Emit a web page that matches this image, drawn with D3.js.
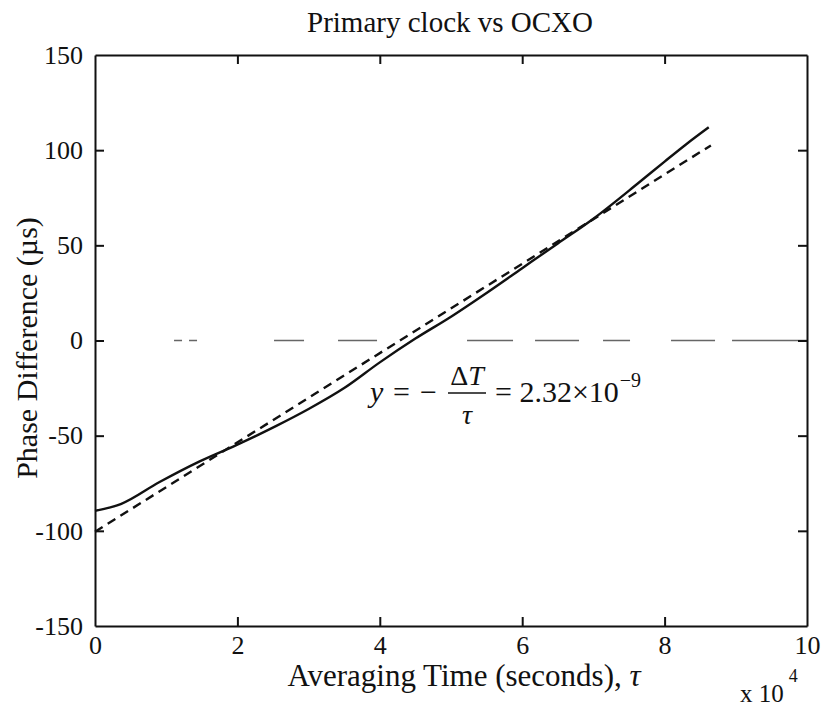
<!DOCTYPE html>
<html>
<head>
<meta charset="utf-8">
<script src="https://cdn.jsdelivr.net/npm/d3@7"></script>
<style>
  html, body { margin: 0; padding: 0; background: #fff; }
  svg { display: block; }
  text { font-family: "Liberation Serif", "Times New Roman", serif; fill: #111; }
</style>
</head>
<body>
<svg id="chart" width="823" height="711"></svg>
<script>
// ---- data (x in units of 10^4 s, y in microseconds) ----
const measuredX = [0, 0.37, 0.9, 1.47, 2.0, 2.54, 3.0, 3.5, 4.0, 4.5, 5.0, 5.5, 6.0, 6.5, 7.0, 7.64, 8.0, 8.3, 8.62];
const measuredY = [-89.5, -85.8, -74.5, -63.5, -54.7, -45, -36, -25, -11.5, 1, 12.5, 25, 38, 51, 64, 83, 94, 103, 112];
const fitX = [0, 8.65];
const fitY = [-100.5, 102.5];
const zeroX = [1.11, 10];
const zeroY = [0, 0];
const xTicks = [0, 2, 4, 6, 8, 10];
const yTicks = [-150, -100, -50, 0, 50, 100, 150];
const titleText = "Primary clock vs OCXO";
const xLabelText = "Averaging Time (seconds), ";
const yLabelText = "Phase Difference (\u00b5s)";

const svg = d3.select("#chart");
const m = { left: 95, right: 807, top: 55, bottom: 626 };
const x = d3.scaleLinear().domain([0, 10]).range([m.left, m.right]);
const y = d3.scaleLinear().domain([-150, 150]).range([m.bottom, m.top]);

const FS = 26;

// title
svg.append("text").attr("x", 450).attr("y", 32)
  .attr("text-anchor", "middle").attr("font-size", 29).text(titleText);

// zero reference line (faint, irregularly broken as in the scan)
const line = d3.line().x(d => x(d[0])).y(d => y(d[1]));
svg.append("path").datum(d3.zip(zeroX, zeroY)).attr("d", line)
  .attr("fill", "none").attr("stroke", "#666").attr("stroke-width", 1.3)
  .attr("stroke-dasharray", "8,7,8,77,30,34,39,90,46,22,44,24,27,41,44,17,80");

// fit (dashed)
svg.append("path").datum(d3.zip(fitX, fitY)).attr("d", line)
  .attr("fill", "none").attr("stroke", "#111").attr("stroke-width", 2.4)
  .attr("stroke-dasharray", "9,6");

// measured (solid)
svg.append("path").datum(d3.zip(measuredX, measuredY))
  .attr("d", d3.line().x(d => x(d[0])).y(d => y(d[1])).curve(d3.curveMonotoneX))
  .attr("fill", "none").attr("stroke", "#111").attr("stroke-width", 2.4);

// axes with inward ticks
const tickLen = 9;
const axB = svg.append("g").attr("transform", `translate(0,${m.bottom})`)
  .call(d3.axisBottom(x).tickValues(xTicks).tickSizeInner(-tickLen).tickSizeOuter(0).tickPadding(10).tickFormat(d3.format("d")));
const axT = svg.append("g").attr("transform", `translate(0,${m.top})`)
  .call(d3.axisTop(x).tickValues(xTicks).tickSizeInner(-tickLen).tickSizeOuter(0).tickFormat(""));
const axL = svg.append("g").attr("transform", `translate(${m.left},0)`)
  .call(d3.axisLeft(y).tickValues(yTicks).tickSizeInner(-tickLen).tickSizeOuter(0).tickPadding(12)
    .tickFormat(d => d < 0 ? "-" + Math.abs(d) : String(d)));
const axR = svg.append("g").attr("transform", `translate(${m.right},0)`)
  .call(d3.axisRight(y).tickValues(yTicks).tickSizeInner(-tickLen).tickSizeOuter(0).tickFormat(""));
[axB, axT, axL, axR].forEach(g => {
  g.select(".domain").attr("stroke", "#111").attr("stroke-width", 2);
  g.selectAll(".tick line").attr("stroke", "#111").attr("stroke-width", 2);
  g.selectAll(".tick text").attr("font-family", "Liberation Serif, serif").attr("font-size", FS).attr("fill", "#111");
});
axB.selectAll(".tick").filter(d => d === 0 || d === 10).select("line").remove();
axT.selectAll(".tick").filter(d => d === 0 || d === 10).select("line").remove();
axL.selectAll(".tick").filter(d => d === 150 || d === -150).select("line").remove();
axR.selectAll(".tick").filter(d => d === 150 || d === -150).select("line").remove();

// x label
const xl = svg.append("text").attr("x", 464).attr("y", 686)
  .attr("text-anchor", "middle").attr("font-size", 31);
xl.append("tspan").text(xLabelText);
xl.append("tspan").attr("font-style", "italic").text("\u03c4");

// exponent note
const ex = svg.append("text").attr("x", 740).attr("y", 702).attr("font-size", 25);
ex.append("tspan").text("x 10");
ex.append("tspan").attr("dy", -20).attr("dx", 5).attr("font-size", 18).text("4");

// y label
svg.append("text").attr("transform", `translate(37,${348}) rotate(-90)`)
  .attr("text-anchor", "middle").attr("font-size", 30).text(yLabelText);

// equation annotation
const eq = svg.append("g");
const eqBase = 402;
eq.append("text").attr("x", 370).attr("y", eqBase).attr("font-size", 30).attr("font-style", "italic").text("y");
eq.append("text").attr("x", 393).attr("y", eqBase).attr("font-size", 30).text("=");
eq.append("text").attr("x", 420).attr("y", eqBase).attr("font-size", 30).text("\u2212");
eq.append("text").attr("x", 467).attr("y", eqBase - 17).attr("text-anchor", "middle").attr("font-size", 28).html("\u0394<tspan font-style='italic'>T</tspan>");
eq.append("line").attr("x1", 448).attr("x2", 486).attr("y1", eqBase - 9).attr("y2", eqBase - 9).attr("stroke", "#111").attr("stroke-width", 1.3);
eq.append("text").attr("x", 467).attr("y", eqBase + 22).attr("text-anchor", "middle").attr("font-size", 28).attr("font-style", "italic").text("\u03c4");
const rhs = eq.append("text").attr("x", 495).attr("y", eqBase).attr("font-size", 30);
rhs.append("tspan").text("= 2.32\u00d710");
rhs.append("tspan").attr("dy", -15).attr("dx", 1).attr("font-size", 20).text("\u22129");
</script>
</body>
</html>
